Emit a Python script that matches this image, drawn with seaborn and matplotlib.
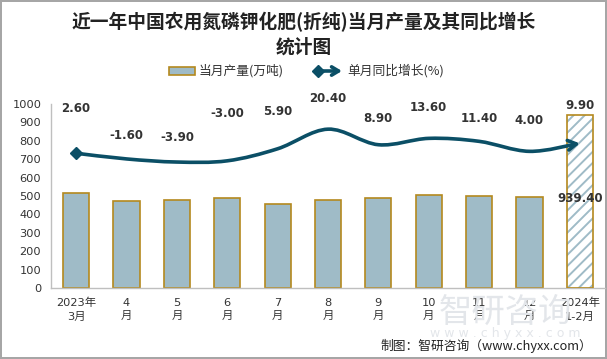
import numpy as np
import pandas as pd
import matplotlib
matplotlib.use("Agg")
import matplotlib.pyplot as plt
import seaborn as sns
from matplotlib.path import Path
from matplotlib.patches import FancyArrowPatch, Rectangle
from matplotlib.lines import Line2D

# 数据
months = ["2023年\n3月", "4\n月", "5\n月", "6\n月", "7\n月", "8\n月",
          "9\n月", "10\n月", "11\n月", "12\n月", "2024年\n1-2月"]
output = [516, 473, 478, 489, 457, 478, 489, 505, 500, 495, 939.4]
growth = [2.6, -1.6, -3.9, -3.0, 5.9, 20.4, 8.9, 13.6, 11.4, 4.0, 9.9]
label_dy_px = [45, 23, 25, 47, 37, 31, 26, 31, 23, 31, 38]

bar_color = "#9fbbc7"
edge_color = "#b4891e"
line_color = "#0b4f66"
text_color = "#333333"

sns.set_style("white")
plt.rcParams["font.family"] = ["DejaVu Sans", "Noto Sans CJK SC"]
plt.rcParams["hatch.linewidth"] = 1.4

W, H = 607, 359
fig = plt.figure(figsize=(W / 100, H / 100), dpi=100)
fig.patch.set_edgecolor("#a6a6a6")
fig.patch.set_linewidth(1.5)


def fx(x):
    return x / W


def fy(y):
    return 1 - y / H


ax = fig.add_axes([fx(51), fy(288), fx(605) - fx(51), fy(104) - fy(288)])
df = pd.DataFrame({"month": months, "output": output})
sns.barplot(data=df, x="month", y="output", ax=ax, color=bar_color,
            width=0.52, saturation=1, edgecolor=edge_color, linewidth=1.2)

# 最后一根柱子：斜线填充
last = ax.patches[len(output) - 1]
last.set_facecolor("white")
last.set_hatch("///")
last.set_edgecolor(bar_color)
last.set_linewidth(0)
ax.add_patch(Rectangle((last.get_x(), last.get_y()), last.get_width(), last.get_height(),
                       facecolor="none", edgecolor=edge_color, linewidth=1.2, zorder=3))
ax.annotate(f"{output[-1]:.2f}", (len(output) - 1, output[-1]), xytext=(0, -83 * 0.72),
            textcoords="offset points", ha="center", va="center",
            fontsize=8.5, fontweight="bold", color=text_color)

ax.set_ylim(0, 1000)
ax.set_xlim(-0.5, len(months) - 0.5)
ax.set_yticks(range(0, 1001, 100))
ax.set_xlabel("")
ax.set_ylabel("")
ax.tick_params(axis="y", length=0, pad=7, labelsize=8.2, labelcolor=text_color)
ax.tick_params(axis="x", length=0, pad=7, labelsize=8.2, labelcolor=text_color)
for lab in ax.get_xticklabels():
    lab.set_linespacing(1.45)
for s in ["top", "right"]:
    ax.spines[s].set_visible(False)
for s in ["left", "bottom"]:
    ax.spines[s].set_color("#bfbfbf")
    ax.spines[s].set_linewidth(1)

# 同比增长：平滑曲线（次坐标轴，隐藏）
ax2 = ax.twinx()
ax2.set_ylim(-97, 39)
ax2.axis("off")
xs = np.arange(len(growth), dtype=float)
pts = np.column_stack([xs, np.array(growth, dtype=float)])
ext = np.vstack([pts[0], pts, pts[-1]])
verts = [tuple(pts[0])]
codes = [Path.MOVETO]
for i in range(len(pts) - 1):
    p0, p1, p2, p3 = ext[i], ext[i + 1], ext[i + 2], ext[i + 3]
    c1 = p1 + (p2 - p0) / 6
    c2 = p2 - (p3 - p1) / 6
    verts += [tuple(c1), tuple(c2), tuple(p2)]
    codes += [Path.CURVE4] * 3
arrow = FancyArrowPatch(path=Path(verts, codes), arrowstyle="->,head_length=6,head_width=3.5",
                        color=line_color, lw=2.6, transform=ax2.transData, zorder=4)
ax2.add_patch(arrow)
ax2.plot([xs[0]], [growth[0]], marker="D", markersize=6, color=line_color, zorder=5)

for x, g, dy in zip(xs, growth, label_dy_px):
    ax2.annotate(f"{g:.2f}", (x, g), xytext=(0, dy * 0.72), textcoords="offset points",
                 ha="center", va="center", fontsize=8.5, fontweight="bold", color=text_color)

# 标题
fig.text(0.5, fy(22), "近一年中国农用氮磷钾化肥(折纯)当月产量及其同比增长", ha="center", va="center",
         fontsize=13.5, fontweight="bold", color="#222222", family=["Noto Sans CJK SC"])
fig.text(0.5, fy(47), "统计图", ha="center", va="center",
         fontsize=13.5, fontweight="bold", color="#222222", family=["Noto Sans CJK SC"])

# 图例
fig.add_artist(Rectangle((fx(169), fy(75)), fx(195) - fx(169), fy(67) - fy(75),
                         facecolor=bar_color, edgecolor=edge_color, linewidth=1.2,
                         transform=fig.transFigure))
fig.text(fx(199), fy(71), "当月产量(万吨)", ha="left", va="center", fontsize=9.2,
         color=text_color, family=["Noto Sans CJK SC"])
fig.add_artist(FancyArrowPatch((fx(318), fy(71)), (fx(342), fy(71)), transform=fig.transFigure,
                               arrowstyle="->,head_length=5,head_width=3", color=line_color,
                               lw=2.6, shrinkA=0, shrinkB=0))
fig.add_artist(Line2D([fx(318)], [fy(71)], marker="D", markersize=6, color=line_color,
                      transform=fig.transFigure))
fig.text(fx(347), fy(71), "单月同比增长(%)", ha="left", va="center", fontsize=9.2,
         color=text_color, family=["Noto Sans CJK SC"])

# 水印与来源
fig.text(fx(505), fy(312), "智研咨询", ha="center", va="center", fontsize=24,
         color="#e3e6ea", family=["Noto Sans CJK SC"], zorder=0)
fig.text(fx(505), fy(333), "w w w . c h y x x . c o m", ha="center", va="center", fontsize=9,
         color="#e3e6ea", zorder=0)
fig.text(fx(592), fy(346), "制图：智研咨询（www.chyxx.com）", ha="right", va="center",
         fontsize=9.2, color="#222222", family=["Noto Sans CJK SC"])

fig.savefig("out.png", dpi=100, edgecolor=fig.get_edgecolor())
